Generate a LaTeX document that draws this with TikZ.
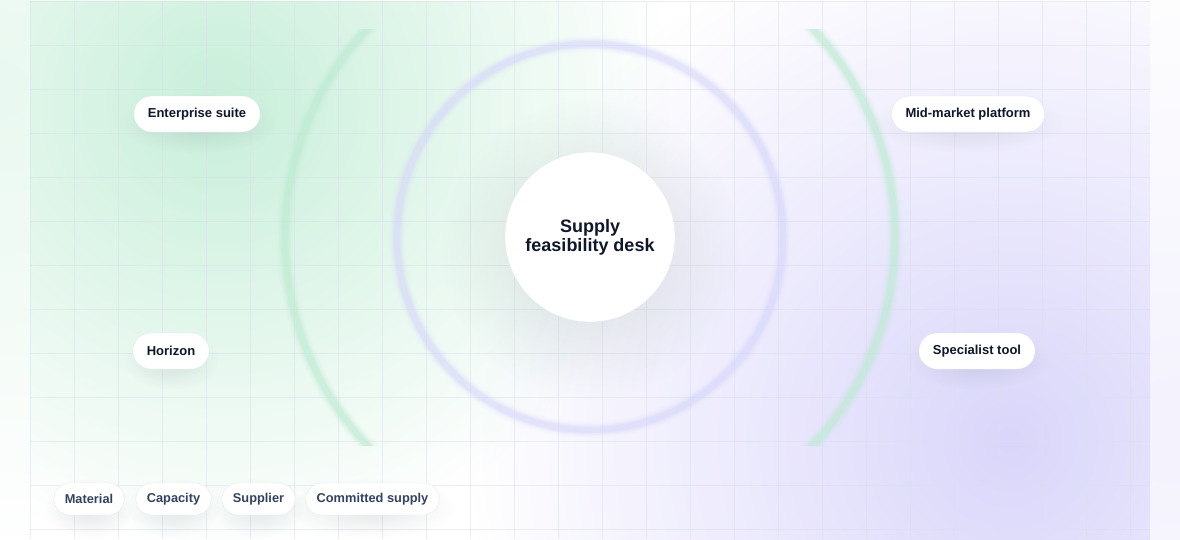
\documentclass[tikz,border=0pt]{standalone}
\usepackage{fontspec}
\setmainfont{Liberation Sans}
\usetikzlibrary{fadings,calc}
\definecolor{ink}{HTML}{0F172A}
\definecolor{slate}{HTML}{34425F}
\definecolor{mint}{HTML}{C8EFDA}
\definecolor{lilac}{HTML}{DAD6FB}
\definecolor{gridline}{HTML}{D9E0E8}
\definecolor{ringgreen}{HTML}{BCEBD2}
\definecolor{ringviolet}{HTML}{D6D6FB}
\definecolor{pillrim}{HTML}{E6EAF0}
\definecolor{shadowtint}{HTML}{5E6E78}
\definecolor{hubshadow}{HTML}{5F7A70}
\tikzfading[name=glow, inner color=transparent!0, outer color=transparent!100]
\pgfdeclarelayer{back}
\pgfdeclarelayer{shade}
\pgfsetlayers{back,shade,main}

\begin{document}
\begin{tikzpicture}[x=1pt,y=-1pt,
    pill/.style={draw=pillrim, fill=white, rounded corners=18pt, minimum height=36pt,
      inner xsep=14pt, text=ink, font=\bfseries\fontsize{13}{15}\selectfont},
    chip/.style={pill, rounded corners=16pt, minimum height=32pt, inner xsep=11pt,
      text=slate, font=\bfseries\fontsize{12.8}{14}\selectfont},
    hub/.style={circle, draw=pillrim, fill=white, minimum size=170pt, align=center,
      text=ink, font=\bfseries\fontsize{18}{19}\selectfont},
    haze/.style={fill=shadowtint, path fading=glow}]

  \useasboundingbox (0,0) rectangle (1180,539);

  % hub and vendors
  \node[hub] (desk) at (590,237) {Supply\\feasibility desk};
  \node[pill] (enterprise) at (197,114) {Enterprise suite};
  \node[pill] (midmarket) at (968,114) {Mid-market platform};
  \node[pill] (horizon) at (171,351) {Horizon};
  \node[pill] (specialist) at (977,351) {Specialist tool};

  % signal chips
  \node[chip] (material) at (89,499) {Material};
  \node[chip] (capacity) at (173.5,499) {Capacity};
  \node[chip] (supplier) at (258.5,499) {Supplier};
  \node[chip] (committed) at (372.5,499) {Committed supply};

  % soft shadows under the nodes
  \begin{pgfonlayer}{shade}
    \foreach \nd in {enterprise,midmarket,horizon,specialist,
                     material,capacity,supplier,committed}
      \path let \p1=(\nd.west), \p2=(\nd.east) in
        [haze, fill opacity=0.16]
        ([yshift=-9pt]\nd.center) ellipse [x radius={0.62*(\x2-\x1)}, y radius=30pt];
    \fill[haze, fill=hubshadow, fill opacity=0.2] ([yshift=-12pt]desk.center) circle (150);
  \end{pgfonlayer}

  \begin{pgfonlayer}{back}
    % page and its tint
    \fill[white] (0,0) rectangle (1180,539);
    \fill[mint, opacity=0.4, path fading=glow] (0,90) circle (450);
    \fill[lilac, opacity=0.3, path fading=glow] (1180,430) circle (500);

    % panel glows and grid
    \begin{scope}
      \clip (30,1) rectangle (1150,539);
      \fill[white] (30,1) rectangle (1150,539);
      \fill[mint, path fading=glow] (220,105) circle (450);
      \fill[lilac, path fading=glow] (1010,440) circle (540);
      \foreach \gx in {30,74,...,1150}
        \draw[gridline, line width=0.8pt, opacity=0.5] (\gx,1) -- (\gx,539);
      \foreach \gy in {1,45,...,539}
        \draw[gridline, line width=0.8pt, opacity=0.5] (30,\gy) -- (1150,\gy);
    \end{scope}

    % outer ring, cut at top and bottom
    \begin{scope}
      \clip (0,29) rectangle (1180,445);
      \foreach \w/\o in {16/0.1, 12/0.16, 9/0.26, 6/0.4}
        \draw[ringgreen, line width=\w pt, opacity=\o] (590,237) circle (305);
    \end{scope}

    % inner ring
    \foreach \w/\o in {16/0.08, 12/0.14, 9/0.24, 6/0.36}
      \draw[ringviolet, line width=\w pt, opacity=\o] (590,237) circle (193);
  \end{pgfonlayer}
\end{tikzpicture}
\end{document}
